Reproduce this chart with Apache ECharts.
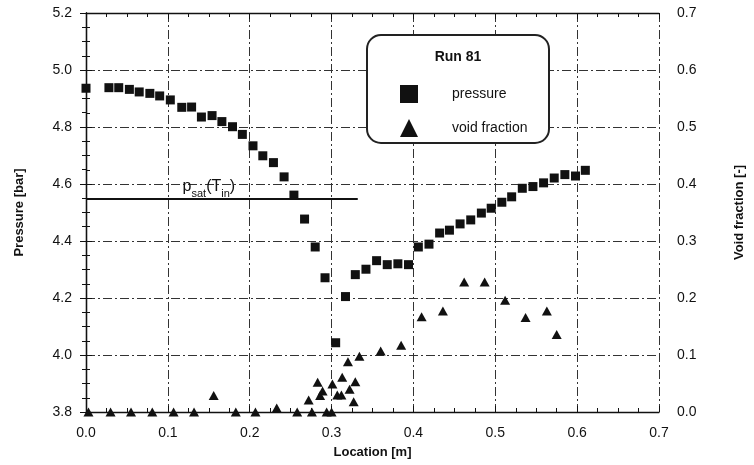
<!DOCTYPE html>
<html>
<head>
<meta charset="utf-8">
<script src="https://cdn.jsdelivr.net/npm/echarts@6/dist/echarts.min.js"></script>
<style>html,body{margin:0;padding:0;background:#fff}#c{width:754px;height:465px}</style>
</head>
<body>
<div id="c"></div>
<script>
// Pressure data (location [m], pressure [bar])
const pressureX = [0.000,0.028,0.040,0.053,0.065,0.078,0.090,0.103,0.117,0.129,0.141,0.154,0.166,0.179,0.191,0.204,0.216,0.229,0.242,0.254,0.267,0.280,0.292,0.305,0.317,0.329,0.342,0.355,0.368,0.381,0.394,0.406,0.419,0.432,0.444,0.457,0.470,0.483,0.495,0.508,0.520,0.533,0.546,0.559,0.572,0.585,0.598,0.610];
const pressureY = [4.936,4.938,4.938,4.932,4.923,4.918,4.909,4.895,4.869,4.870,4.835,4.840,4.819,4.801,4.774,4.734,4.699,4.675,4.625,4.561,4.477,4.379,4.271,4.043,4.205,4.282,4.301,4.331,4.317,4.320,4.317,4.379,4.389,4.428,4.438,4.460,4.474,4.498,4.515,4.536,4.555,4.585,4.591,4.604,4.621,4.633,4.628,4.648];
// Void fraction data (location [m], void fraction [-])
const voidX = [0.003,0.030,0.055,0.081,0.107,0.132,0.156,0.183,0.207,0.233,0.258,0.272,0.276,0.283,0.286,0.289,0.294,0.300,0.301,0.307,0.312,0.313,0.320,0.322,0.327,0.329,0.334,0.360,0.385,0.410,0.436,0.462,0.487,0.512,0.537,0.563,0.575];
const voidY = [0,0,0,0,0,0,0.029,0,0,0.007,0,0.021,0,0.052,0.029,0.037,0,0,0.049,0.030,0.030,0.061,0.088,0.040,0.018,0.053,0.098,0.107,0.117,0.167,0.177,0.228,0.228,0.196,0.166,0.177,0.136];
// Saturation pressure reference line
const psatValue = 4.55;
const psatEnd = 0.332;
// Axis ticks
const xTicks = [0.0,0.1,0.2,0.3,0.4,0.5,0.6,0.7];
const pTicks = [3.8,4.0,4.2,4.4,4.6,4.8,5.0,5.2];
const vTicks = [0.0,0.1,0.2,0.3,0.4,0.5,0.6,0.7];

const FONT = 'Liberation Sans';
const INK = '#111';
const gridLine = {show:true, lineStyle:{color:'#333', width:1, type:[9,3,2,3]}};
const axisLine = {show:true, lineStyle:{color:INK, width:1.3}};
const tick = {show:true, inside:true, length:6, lineStyle:{color:INK}};
const minor = {show:true, splitNumber:4, length:4, lineStyle:{color:INK}};

const chart = echarts.init(document.getElementById('c'), null, {renderer:'canvas'});
chart.setOption({
  animation:false,
  backgroundColor:'#fff',
  textStyle:{fontFamily:FONT},
  grid:{left:86, right:93, top:13, bottom:53, containLabel:false},
  xAxis:[{
    type:'value', min:xTicks[0], max:xTicks[xTicks.length-1], interval:0.1, position:'bottom',
    name:'Location [m]', nameLocation:'middle', nameGap:34,
    nameTextStyle:{fontFamily:FONT, fontWeight:'bold', fontSize:13, color:INK},
    axisLine:axisLine, axisTick:tick, minorTick:minor,
    axisLabel:{fontFamily:FONT, fontSize:14, color:INK, margin:14, formatter:v=>v.toFixed(1)},
    splitLine:gridLine
  },{
    type:'value', min:xTicks[0], max:xTicks[xTicks.length-1], interval:0.1, position:'top',
    axisLine:axisLine, axisTick:tick, minorTick:minor, axisLabel:{show:false}, splitLine:{show:false}
  }],
  yAxis:[{
    type:'value', min:pTicks[0], max:pTicks[pTicks.length-1], interval:0.2, position:'left',
    name:'Pressure [bar]', nameLocation:'middle', nameGap:60,
    nameTextStyle:{fontFamily:FONT, fontWeight:'bold', fontSize:13, color:INK},
    axisLine:axisLine, axisTick:tick, minorTick:minor,
    axisLabel:{fontFamily:FONT, fontSize:14, color:INK, margin:14, formatter:v=>v.toFixed(1)},
    splitLine:gridLine
  },{
    type:'value', min:vTicks[0], max:vTicks[vTicks.length-1], interval:0.1, position:'right',
    name:'Void fraction [-]', nameLocation:'middle', nameGap:74,
    nameTextStyle:{fontFamily:FONT, fontWeight:'bold', fontSize:13, color:INK},
    axisLine:axisLine, axisTick:tick, minorTick:minor,
    axisLabel:{fontFamily:FONT, fontSize:14, color:INK, margin:18, formatter:v=>v.toFixed(1)},
    splitLine:{show:false}
  }],
  legend:{
    orient:'vertical', left:395, top:80, itemWidth:18, itemHeight:18, itemGap:16,
    textStyle:{fontFamily:FONT, fontSize:14, color:INK, padding:[0,0,0,29]},
    data:['pressure','void fraction'], z:10
  },
  graphic:[
    {type:'rect', z:5, shape:{x:367, y:35, width:182, height:108, r:14},
     style:{fill:'#fff', stroke:'#222', lineWidth:2}},
    {type:'text', z:6, x:458, y:57,
     style:{text:'Run 81', font:'bold 14px "Liberation Sans"', fill:INK, textAlign:'center', textVerticalAlign:'middle'}}
  ],
  series:[{
    name:'pressure', type:'scatter', xAxisIndex:0, yAxisIndex:0,
    symbol:'rect', symbolSize:9, itemStyle:{color:INK, opacity:1},
    data:pressureX.map((x,i)=>[x, pressureY[i]]),
    markLine:{
      silent:true, symbol:['none','none'],
      lineStyle:{color:INK, width:1.8, type:'solid'},
      label:{show:true, position:'insideMiddleTop', distance:4, padding:[0,26,0,0],
        formatter:'{p|p}{s|sat}{p|(T}{s|in}{p|)}',
        rich:{p:{fontFamily:FONT, fontSize:16, color:INK, lineHeight:20, verticalAlign:'bottom'},
              s:{fontFamily:FONT, fontSize:11, color:INK, lineHeight:20, verticalAlign:'bottom', padding:[0,0,-5,0]}}},
      data:[[{coord:[xTicks[0], psatValue]},{coord:[psatEnd, psatValue]}]]
    }
  },{
    name:'void fraction', type:'scatter', xAxisIndex:0, yAxisIndex:1,
    symbol:'triangle', symbolSize:[10,9], itemStyle:{color:INK, opacity:1},
    data:voidX.map((x,i)=>[x, voidY[i]])
  }]
});
</script>
</body>
</html>
